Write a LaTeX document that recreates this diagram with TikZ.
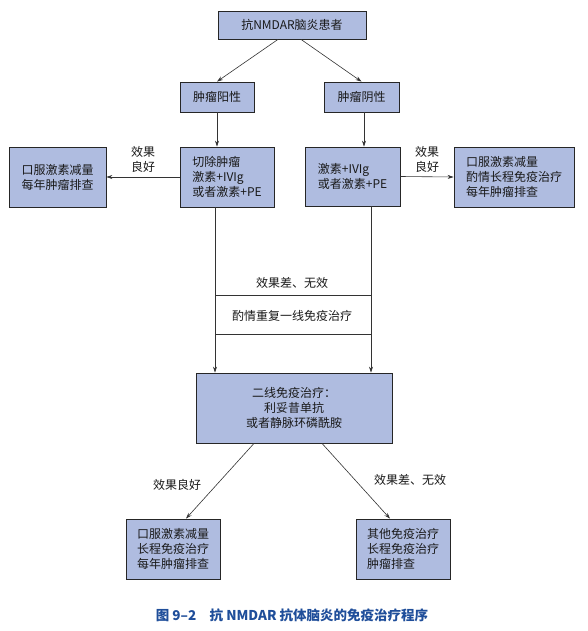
\documentclass[tikz,border=0pt]{standalone}
\usepackage{fontspec}
\setmainfont{Noto Sans CJK SC}
\usetikzlibrary{arrows.meta}
\definecolor{boxfill}{RGB}{175,188,224}
\definecolor{capblue}{RGB}{31,78,154}
\begin{document}
\begin{tikzpicture}[x=1pt,y=-1pt,
  every node/.style={font=\fontsize{12}{15}\selectfont,text=black!90},
  box/.style={draw=black!85,fill=boxfill,line width=0.8pt,inner sep=0pt,align=left},
  arr/.style={draw=black!80,line width=0.6pt,-{Stealth[length=6pt,width=4pt]}},
  ln/.style={draw=black!80,line width=0.6pt}]
\useasboundingbox (0,0) rectangle (588,631);
\node[box,minimum width=148pt,minimum height=28pt] (top) at (292,25) {抗NMDAR脑炎患者};
\node[box,minimum width=74pt,minimum height=30pt] (pos) at (217,97) {肿瘤阳性};
\node[box,minimum width=75pt,minimum height=30pt] (neg) at (361.5,97) {肿瘤阴性};
\node[box,minimum width=94pt,minimum height=60pt] (cut) at (227,177) {切除肿瘤\\激素+IVIg\\或者激素+PE};
\node[box,minimum width=97pt,minimum height=60pt] (lft) at (57.5,177) {口服激素减量\\每年肿瘤排查};
\node[box,minimum width=95pt,minimum height=59pt] (ivig) at (352.5,176.5) {激素+IVIg\\或者激素+PE};
\node[box,minimum width=120pt,minimum height=60pt] (rgt) at (514,177) {口服激素减量\\酌情长程免疫治疗\\每年肿瘤排查};
\node[box,align=center,minimum width=196pt,minimum height=70pt] (sec) at (294,408) {二线免疫治疗：\\利妥昔单抗\\或者静脉环磷酰胺};
\node[box,minimum width=94pt,minimum height=60pt] (bl) at (173,549) {口服激素减量\\长程免疫治疗\\每年肿瘤排查};
\node[box,minimum width=94pt,minimum height=60pt] (br) at (403,549) {其他免疫治疗\\长程免疫治疗\\肿瘤排查};
\draw[arr] ([xshift=-14pt]top.south) -- (pos.north);
\draw[arr] ([xshift=9pt]top.south) -- (neg.north);
\draw[arr] (pos.south) -- (pos.south |- cut.north);
\draw[arr] ([xshift=2.5pt]neg.south) -- ([xshift=2.5pt]neg.south |- ivig.north);
\draw[arr] (cut.west) -- (lft.east) node[midway,above=1pt,align=center] {效果\\良好};
\draw[arr] (ivig.east) -- (rgt.west) node[midway,above=1pt,align=center] {效果\\良好};
\coordinate (c1) at ([xshift=-12pt]cut.south);
\coordinate (c2) at ([xshift=18.5pt]ivig.south);
\draw[arr] (c1) -- (c1 |- sec.north);
\draw[arr] (c2) -- (c2 |- sec.north);
\draw[ln] (c1 |- 0,295) -- (c2 |- 0,295);
\draw[ln] (c1 |- 0,334) -- (c2 |- 0,334);
\node (bad1) at (292,283) {效果差、无效};
\node (redo) at (292,316) {酌情重复一线免疫治疗};
\draw[arr] ([xshift=-40pt]sec.south) -- ([xshift=13pt]bl.north);
\draw[arr] ([xshift=28pt]sec.south) -- ([xshift=-13pt]br.north);
\node (good2) at (177,485) {效果良好};
\node (bad2) at (410,480) {效果差、无效};
\node[font=\bfseries\fontsize{13.5}{15}\selectfont,text=capblue] (cap) at (292,615) {图 9–2\quad 抗 NMDAR 抗体脑炎的免疫治疗程序};
\end{tikzpicture}
\end{document}
